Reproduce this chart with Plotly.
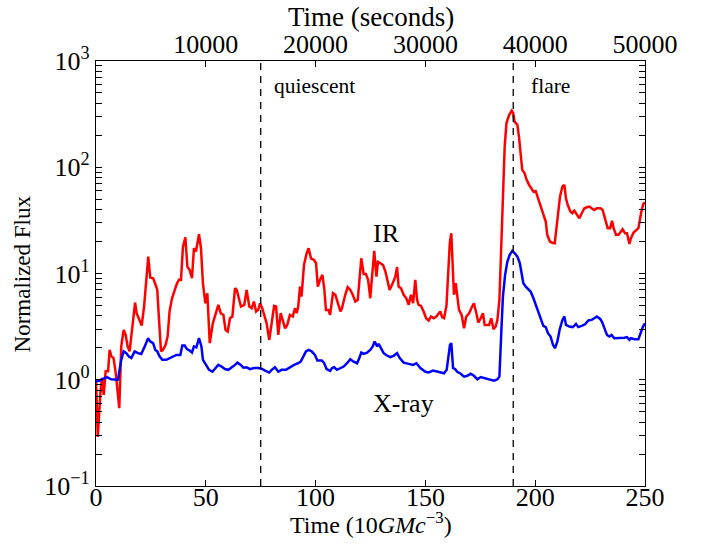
import plotly.graph_objects as go

# ---- data (time in units of 10 GM/c^3) ----
ir_time = [0.0, 0.8, 2.0, 2.7, 3.5, 4.4, 5.5, 6.2, 7.0, 8.0, 9.0, 9.9, 10.6, 11.5, 12.6, 13.5, 14.4, 15.3,
           16.5, 17.8, 18.5, 19.6, 20.8, 21.9, 22.9, 23.8, 24.7, 26.0, 26.9, 27.9, 28.7, 29.6, 30.5, 31.7,
           32.6, 33.5, 34.6, 35.7, 36.9, 37.8, 38.7, 39.6, 40.7, 41.6, 42.7, 43.7, 44.6, 45.5, 46.9, 47.8,
           48.7, 49.8, 50.7, 51.8, 53.2, 55.7, 56.8, 58.0, 59.0, 60.0, 61.0, 62.1, 63.3, 64.1, 65.1, 66.0,
           67.5, 68.6, 69.8, 70.9, 71.9, 72.9, 73.9, 74.7, 75.7, 76.7, 77.7, 78.9, 80.0, 81.1, 82.0, 83.0,
           84.1, 85.0, 86.1, 87.1, 88.3, 89.6, 90.6, 91.4, 92.1, 92.9, 93.6, 94.7, 95.9, 96.8, 97.9, 99.3,
           100.2, 101.0, 102.0, 103.1, 104.0, 104.7, 105.8, 106.6, 107.9, 109.0, 109.7, 110.5, 111.3, 112.0,
           112.8, 113.5, 114.6, 115.8, 116.9, 118.1, 119.2, 120.1, 120.8, 121.9, 122.9, 123.9, 124.9, 125.7,
           126.7, 127.7, 128.4, 129.5, 130.7, 131.8, 132.8, 133.7, 134.8, 135.5, 136.3, 137.1, 137.8, 138.9,
           140.1, 141.3, 142.4, 143.4, 144.4, 145.4, 146.2, 146.9, 148.0, 149.2, 150.3, 151.5, 152.6, 153.8,
           155.0, 156.1, 156.8, 157.6, 158.5, 159.6, 160.3, 161.1, 161.8, 162.6, 163.0, 163.8, 164.5, 165.3,
           166.5, 167.6, 168.6, 169.9, 170.9, 172.1, 173.2, 174.1, 175.2, 176.2, 177.0, 178.2, 179.0, 180.0,
           181.0, 182.0, 182.8, 183.7, 184.6, 185.3, 186.1, 186.9, 188.1, 189.3, 190.0, 190.6, 191.9, 192.6,
           193.4, 194.1, 195.2, 196.1, 197.2, 198.2, 199.2, 200.2, 201.3, 202.5, 203.7, 204.8, 205.5, 206.7,
           207.8, 208.9, 210.1, 211.3, 212.4, 213.3, 214.0, 214.8, 216.0, 216.9, 217.8, 219.0, 220.1, 221.2,
           222.4, 223.6, 224.7, 225.7, 226.9, 228.1, 229.7, 230.7, 231.8, 233.0, 234.1, 235.0, 235.7, 236.8,
           237.9, 238.8, 239.8, 240.9, 241.8, 242.9, 243.6, 244.8, 245.9, 247.0, 248.2, 249.2, 250.0]
ir_flux = [1.0, 0.29, 0.75, 1.04, 0.72, 1.20, 1.20, 1.91, 1.66, 1.60, 1.15, 0.75, 0.54, 2.06, 2.94, 2.64, 2.06, 1.85,
           3.17, 5.33, 4.23, 3.66, 3.24, 4.89, 9.35, 14.4, 9.16, 9.02, 8.09, 7.01, 3.66, 1.85, 1.91, 2.13,
           2.55, 4.39, 5.85, 7.01, 8.09, 8.71, 8.71, 17.9, 21.9, 11.6, 10.7, 9.02, 17.3, 16.1, 23.4, 17.3,
           8.09, 5.25, 6.52, 2.21, 3.40, 5.07, 4.23, 4.08, 2.94, 2.84, 3.79, 3.94, 7.26, 7.01, 5.65, 4.89,
           5.07, 7.01, 4.89, 4.71, 5.44, 4.39, 4.55, 5.25, 4.71, 3.94, 3.40, 2.37, 3.40, 4.95, 4.89, 2.64,
           4.23, 3.66, 3.05, 3.28, 4.08, 3.94, 4.71, 4.23, 4.89, 7.53, 6.07, 12.0, 15.5, 17.3, 13.9, 13.4,
           12.5, 7.53, 8.71, 9.70, 7.01, 4.54, 4.54, 4.08, 6.52, 6.30, 5.65, 4.89, 4.39, 4.71,
           5.65, 6.30, 7.43, 7.01, 6.30, 5.44, 5.65, 9.35, 13.9, 9.91, 9.91, 8.71, 5.85, 9.35,
           16.3, 9.35, 12.9, 12.5, 12.0, 10.4, 8.09, 7.01, 7.82, 8.40, 9.35, 11.5, 7.53, 7.26,
           6.30, 5.85, 5.07, 6.30, 5.25, 8.71, 5.65, 5.07, 4.95, 4.39, 3.79, 3.61, 3.94, 3.79,
           3.94, 4.23, 4.39, 3.88, 3.80, 5.0, 9.35, 19.3, 23.9, 10.8, 6.30, 8.1, 5.85, 4.55,
           4.08, 3.05, 3.94, 4.23, 4.71, 5.25, 4.23, 3.45, 3.79, 4.23, 3.28, 3.28, 3.28, 3.79,
           2.99, 3.17, 3.66, 5.65, 19.3, 61.2, 156, 259, 310, 341, 322, 269, 250, 194,
           140, 94.4, 87.7, 76.0, 68.2, 63.4, 59.0, 59.8, 51.1, 44.2, 35.6, 30.8, 23.1, 20.0,
           19.5, 19.3, 31.9, 53.0, 65.8, 68.2, 51.1, 44.2, 38.3, 36.9, 39.1, 35.6, 33.1, 36.9,
           41.1, 42.0, 42.7, 41.1, 39.6, 41.1, 41.1, 39.6, 33.1, 26.7, 26.7, 31.3, 26.7, 23.1,
           23.1, 24.3, 26.1, 23.9, 23.9, 19.0, 21.5, 24.3, 25.7, 26.7, 36.9, 45.2, 46.5]

xray_time = [0.0, 1.7, 3.2, 5.0, 6.9, 8.5, 10.0, 11.5, 12.6, 13.8, 15.0, 16.1, 17.6, 19.1, 20.6, 22.2, 23.7, 24.7,
             26.0, 27.0, 27.9, 29.0, 30.2, 32.0, 34.3, 36.6, 38.4, 39.3, 40.4, 41.4, 42.7, 43.7, 44.6, 45.7,
             46.9, 48.0, 48.7, 50.2, 51.5, 53.0, 53.7, 55.7, 57.2, 58.7, 60.3, 61.8, 63.3, 64.4, 65.9, 67.1,
             68.6, 70.1, 71.9, 73.9, 75.4, 77.0, 78.9, 80.0, 81.5, 83.0, 84.5, 86.5, 88.3, 90.2, 92.1, 93.2,
             94.4, 95.6, 96.8, 98.2, 99.7, 100.8, 102.8, 103.8, 105.0, 106.6, 107.5, 108.5, 109.7, 111.3,
             112.8, 114.3, 115.8, 117.3, 118.9, 119.9, 120.8, 121.9, 123.4, 124.9, 126.0, 126.9, 128.0, 128.7,
             129.8, 131.0, 132.5, 134.0, 135.5, 137.1, 138.3, 140.1, 142.4, 144.4, 145.9, 147.7, 150.0, 151.5,
             153.5, 155.3, 157.6, 158.5, 159.7, 160.4, 161.2, 161.8, 162.6, 163.5, 164.5, 166.1, 167.6, 169.1,
             170.6, 172.1, 173.7, 175.2, 176.7, 178.2, 179.7, 181.2, 182.8, 183.7, 184.6, 185.3, 186.3, 187.3,
             188.4, 189.6, 190.7, 191.9, 193.0, 193.8, 194.6, 195.7, 196.7, 197.9, 199.2, 200.2, 201.4, 202.5,
             203.7, 204.8, 205.8, 207.0, 208.1, 209.0, 210.1, 211.1, 212.4, 213.3, 214.0, 215.5, 217.1, 218.6,
             219.6, 221.2, 222.7, 224.2, 225.7, 226.9, 228.1, 229.7, 230.7, 231.8, 232.7, 233.8, 234.8, 236.0,
             237.6, 239.1, 240.6, 241.8, 242.9, 243.6, 245.2, 247.0, 247.9, 249.0, 250.0]
xray_flux = [0.96, 0.98, 1.02, 1.06, 1.01, 1.00, 1.00, 1.54, 1.85, 1.78, 1.65, 1.60, 1.85, 1.78, 1.75, 2.06, 2.46, 2.29,
             2.21, 1.91, 1.85, 1.65, 1.54, 1.54, 1.62, 1.71, 1.71, 2.10, 2.10, 1.94, 1.88, 1.80, 2.06, 2.02,
             2.46, 2.06, 1.54, 1.38, 1.24, 1.19, 1.24, 1.38, 1.33, 1.26, 1.24, 1.30, 1.38, 1.45, 1.38, 1.30,
             1.31, 1.26, 1.29, 1.29, 1.27, 1.22, 1.17, 1.24, 1.31, 1.19, 1.24, 1.24, 1.31, 1.38, 1.43, 1.48,
             1.65, 1.85, 1.91, 1.85, 1.71, 1.52, 1.52, 1.45, 1.26, 1.21, 1.29, 1.31, 1.24, 1.29,
             1.33, 1.43, 1.56, 1.48, 1.43, 1.60, 1.80, 1.75, 1.80, 1.91, 2.06, 2.29, 2.06, 2.18,
             1.98, 1.78, 1.69, 1.63, 1.68, 1.78, 1.60, 1.45, 1.41, 1.38, 1.43, 1.29, 1.19, 1.17,
             1.22, 1.19, 1.15, 1.15, 1.24, 1.66, 2.13, 2.21, 1.29, 1.26, 1.19, 1.14, 1.07, 1.09,
             1.14, 1.09, 1.01, 1.06, 1.04, 1.03, 1.01, 0.98, 1.01, 1.07, 2.94, 6.07, 9.70, 12.9,
             15.0, 16.4, 15.5, 14.4, 12.5, 10.1, 8.09, 7.53, 7.11, 6.76, 5.85, 5.07, 4.39, 3.79,
             3.21, 3.13, 2.74, 2.55, 2.13, 1.98, 2.29, 2.94, 3.66, 3.94, 3.29, 3.17, 3.13, 3.36,
             3.13, 3.21, 3.33, 3.61, 3.66, 3.79, 3.94, 3.72, 3.40, 2.95, 2.64, 2.55, 2.64, 2.46,
             2.46, 2.46, 2.49, 2.52, 2.37, 2.46, 2.41, 2.41, 2.74, 3.13, 3.40]

event_times = [75, 190]
event_labels = ["quiescent", "flare"]
x_ticks = [0, 50, 100, 150, 200, 250]
sec_ticks = [10000, 20000, 30000, 40000, 50000]
sec_ticktext = ["10000", "20000", "30000", "40000", "50000"]
y_ticks = [0.1, 1, 10, 100, 1000]
y_ticktext = ["10<sup>\u22121</sup>", "10<sup>0</sup>", "10<sup>1</sup>", "10<sup>2</sup>", "10<sup>3</sup>"]
SECONDS_PER_UNIT = 200

FONT = "Liberation Serif, Times New Roman, serif"
TICK = 26

fig = go.Figure()
fig.add_trace(go.Scatter(x=ir_time, y=ir_flux, mode="lines", name="IR",
                         line=dict(color="#ff0000", width=2.5), showlegend=False))
fig.add_trace(go.Scatter(x=xray_time, y=xray_flux, mode="lines", name="X-ray",
                         line=dict(color="#0000ff", width=2.5), showlegend=False))
# invisible trace to activate the top (seconds) axis
fig.add_trace(go.Scatter(x=[0, 250 * SECONDS_PER_UNIT], y=[1, 1], xaxis="x2", mode="lines",
                         line=dict(width=0), opacity=0, hoverinfo="skip", showlegend=False))

for t in event_times:
    fig.add_shape(type="line", xref="x", yref="paper", x0=t, x1=t, y0=0, y1=1,
                  line=dict(color="black", width=1.3, dash="7px,6px"))

minor_vals = [m * 10 ** e for e in range(-1, 3) for m in range(2, 10)]

fig.update_layout(
    width=713, height=546,
    margin=dict(l=96, r=68, t=61, b=60),
    paper_bgcolor="white", plot_bgcolor="white",
    font=dict(family=FONT, size=24, color="black"),
    xaxis=dict(range=[0, 250], tickvals=x_ticks, ticks="inside", ticklen=6, tickwidth=1,
               tickcolor="black", showline=True, linecolor="black", linewidth=1.3, mirror=True,
               showgrid=False, zeroline=False, tickfont=dict(size=TICK), automargin=False,
               ticklabelstandoff=-12),
    xaxis2=dict(range=[0, 250 * SECONDS_PER_UNIT], overlaying="x", side="top", anchor="y",
                tickvals=sec_ticks, ticktext=sec_ticktext, ticks="inside", ticklen=6, tickcolor="black",
                showline=False, showgrid=False, zeroline=False, tickfont=dict(size=TICK), automargin=False,
                ticklabelstandoff=2),
    yaxis=dict(type="log", range=[-1, 3], tickvals=y_ticks, ticktext=y_ticktext,
               ticks="inside", ticklen=6, tickcolor="black", showline=True, linecolor="black",
               linewidth=1.3, mirror="allticks", showgrid=False, zeroline=False,
               tickfont=dict(size=TICK), automargin=False,
               minor=dict(tickvals=minor_vals, ticks="inside", ticklen=3, tickcolor="black", showgrid=False)),
    annotations=[
        # axis titles
        dict(x=0.5, y=-0.087, xref="paper", yref="paper", text="Time (10<i>GMc</i><sup>\u22123</sup>)",
             showarrow=False, xanchor="center", yanchor="middle", font=dict(size=24)),
        dict(x=0.5, y=1.1035, xref="paper", yref="paper", text="Time (seconds)",
             showarrow=False, xanchor="center", yanchor="middle", font=dict(size=27)),
        dict(x=-0.133, y=0.5, xref="paper", yref="paper", text="Normalized Flux", textangle=-90,
             showarrow=False, xanchor="center", yanchor="middle", font=dict(size=23)),
        # in-plot labels
        dict(x=event_times[0] + 5, y=2.765, xref="x", yref="y", text=event_labels[0], showarrow=False,
             xanchor="left", yanchor="middle", font=dict(size=21.5)),
        dict(x=event_times[1] + 7.2, y=2.765, xref="x", yref="y", text=event_labels[1], showarrow=False,
             xanchor="left", yanchor="middle", font=dict(size=21.5)),
        dict(x=125.2, y=1.377, xref="x", yref="y", text="IR", showarrow=False,
             xanchor="left", yanchor="middle", font=dict(size=26)),
        dict(x=125.2, y=-0.227, xref="x", yref="y", text="X-ray", showarrow=False,
             xanchor="left", yanchor="middle", font=dict(size=26)),
    ],
)

fig.write_html("out.html", config={"displayModeBar": False},
               post_script="document.body.style.margin='0';")
